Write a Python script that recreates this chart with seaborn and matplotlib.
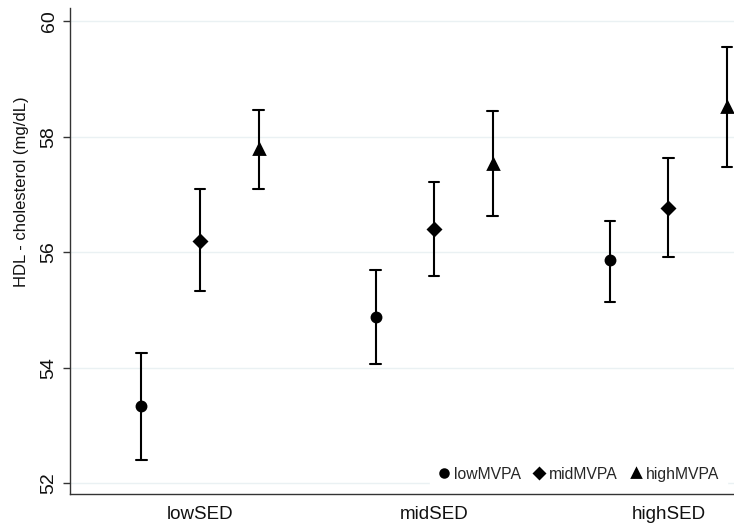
import pandas as pd
import matplotlib
matplotlib.use('Agg')
import matplotlib.pyplot as plt
import seaborn as sns

# values
sed_levels = ['lowSED', 'midSED', 'highSED']
mvpa_levels = ['lowMVPA', 'midMVPA', 'highMVPA']

# point estimates (mg/dL), one list per MVPA group, ordered by SED level
mean_low = [53.34, 54.88, 55.87]
mean_mid = [56.20, 56.41, 56.77]
mean_high = [57.78, 57.53, 58.52]

# 95% CI lower / upper bounds
lo_low = [52.40, 54.07, 55.14]
hi_low = [54.25, 55.69, 56.55]
lo_mid = [55.33, 55.59, 55.92]
hi_mid = [57.09, 57.22, 57.64]
lo_high = [57.09, 56.63, 57.47]
hi_high = [58.47, 58.44, 59.56]

yticks = [52, 54, 56, 58, 60]

# long table: each cell gets lower, estimate and upper value,
# so median = estimate and the full range = CI
rows = []
groups = {
    'lowMVPA': (lo_low, mean_low, hi_low),
    'midMVPA': (lo_mid, mean_mid, hi_mid),
    'highMVPA': (lo_high, mean_high, hi_high),
}
for mvpa, (lo, mid, hi) in groups.items():
    for i, sed in enumerate(sed_levels):
        for v in (lo[i], mid[i], hi[i]):
            rows.append({'SED': sed, 'MVPA': mvpa, 'HDL': v})
df = pd.DataFrame(rows)

sns.set_style('white')
plt.rcParams['font.family'] = ['Liberation Sans', 'DejaVu Sans']

fig = plt.figure(figsize=(7.34, 5.27), dpi=100)
ax = fig.add_axes([0.0954, 0.0617, 0.9046, 0.9231])

sns.pointplot(data=df, x='SED', y='HDL', hue='MVPA',
              order=sed_levels, hue_order=mvpa_levels,
              estimator='median', errorbar=('pi', 100),
              dodge=0.5, markers=['o', 'D', '^'], linestyle='none',
              palette=['black', 'black', 'black'], markersize=6.5,
              capsize=0.045, err_kws={'linewidth': 1.5}, ax=ax)

ax.set_xlim(-0.555, 2.28)
ax.set_ylim(51.806, 60.23)
ax.set_yticks(yticks)
ax.set_yticklabels([str(t) for t in yticks], rotation=90, va='center')
ax.grid(axis='y', color='#eaf1f3', linewidth=1)
ax.set_axisbelow(True)

ax.set_xlabel('')
ax.set_ylabel('HDL - cholesterol (mg/dL)', fontsize=12, color='#111111')
ax.yaxis.set_label_coords(-0.062, 0.622)

ax.tick_params(axis='y', length=5, width=1, color='#333333', pad=4,
               labelsize=14, labelcolor='#111111', left=True)
ax.tick_params(axis='x', length=0, pad=8, labelsize=13.5, labelcolor='#111111')

for side in ['top', 'right']:
    ax.spines[side].set_visible(False)
for side in ['left', 'bottom']:
    ax.spines[side].set_color('#333333')
    ax.spines[side].set_linewidth(1)

handles, labels = ax.get_legend_handles_labels()
leg = ax.legend(handles, labels, ncol=3, loc='lower right',
                bbox_to_anchor=(0.997, 0.0), frameon=True, fontsize=11.3,
                handlelength=0.8, handletextpad=0.25, columnspacing=0.75,
                borderaxespad=0.3, borderpad=0.5, markerscale=0.85)
leg.get_frame().set_facecolor('white')
leg.get_frame().set_edgecolor('white')
leg.get_frame().set_alpha(1)

fig.savefig('out.png', dpi=100)
